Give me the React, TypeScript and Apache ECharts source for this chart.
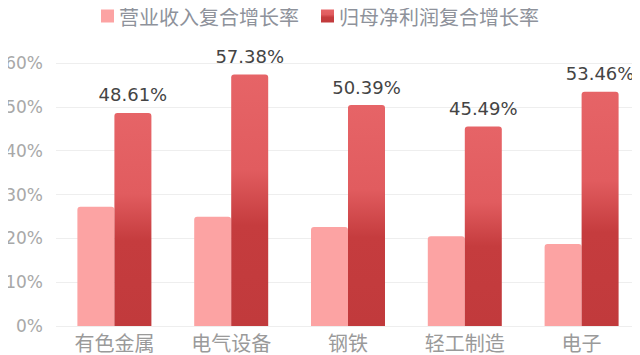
import React, { useEffect, useRef } from "react";
import * as echarts from "echarts";

const categories = ["有色金属", "电气设备", "钢铁", "轻工制造", "电子"];
const revenueGrowth = [27.2, 24.9, 22.6, 20.5, 18.7];
const profitGrowth = [48.61, 57.38, 50.39, 45.49, 53.46];
const seriesNames = ["营业收入复合增长率", "归母净利润复合增长率"];

const FONT = "'Noto Sans CJK SC', 'Noto Sans', sans-serif";
const NUM_FONT = "'DejaVu Sans', 'Noto Sans CJK SC', sans-serif";

export default function App() {
  const ref = useRef<HTMLDivElement>(null);
  useEffect(() => {
    if (!ref.current) return;
    const chart = echarts.init(ref.current, undefined, { renderer: "svg" });
    chart.setOption({
      animation: false,
      textStyle: { fontFamily: FONT },
      legend: {
        top: 1,
        left: "center",
        itemWidth: 13,
        itemHeight: 13,
        itemGap: 22,
        icon: "rect",
        textStyle: { color: "#8E929B", fontSize: 20, fontFamily: FONT },
        data: seriesNames,
      },
      grid: { left: 56, right: 0, top: 63, bottom: 29 },
      xAxis: {
        type: "category",
        data: categories,
        axisLine: { show: false },
        axisTick: { show: false },
        axisLabel: { color: "#9A9A9A", fontSize: 20, margin: 6, fontFamily: FONT },
      },
      yAxis: {
        type: "value",
        min: 0,
        max: 60,
        interval: 10,
        axisLine: { show: false },
        axisTick: { show: false },
        axisLabel: { formatter: "{value}%", color: "#A8A8A8", fontSize: 17, margin: 13, fontFamily: NUM_FONT },
        splitLine: { lineStyle: { color: "#EEEEEE" } },
      },
      series: [
        {
          name: seriesNames[0],
          type: "bar",
          data: revenueGrowth,
          barWidth: 37,
          barGap: "0%",
          itemStyle: { color: "#FCA3A3", borderRadius: [3, 3, 0, 0] },
        },
        {
          name: seriesNames[1],
          type: "bar",
          data: profitGrowth,
          barWidth: 37,
          barGap: "0%",
          itemStyle: {
            borderRadius: [3, 3, 0, 0],
            color: new echarts.graphic.LinearGradient(0, 0, 0, 1, [
              { offset: 0, color: "#E66467" },
              { offset: 0.38, color: "#E15C5F" },
              { offset: 0.6, color: "#C53C3E" },
              { offset: 1, color: "#C13A3C" },
            ]),
          },
          label: {
            show: true,
            position: "top",
            distance: 9,
            formatter: (p: any) => p.value.toFixed(2) + "%",
            color: "#444444",
            fontSize: 18,
            fontFamily: NUM_FONT,
          },
        },
      ],
    });
    return () => chart.dispose();
  }, []);
  return <div ref={ref} style={{ width: 640, height: 355, marginLeft: -8, marginTop: -8 }} />;
}
